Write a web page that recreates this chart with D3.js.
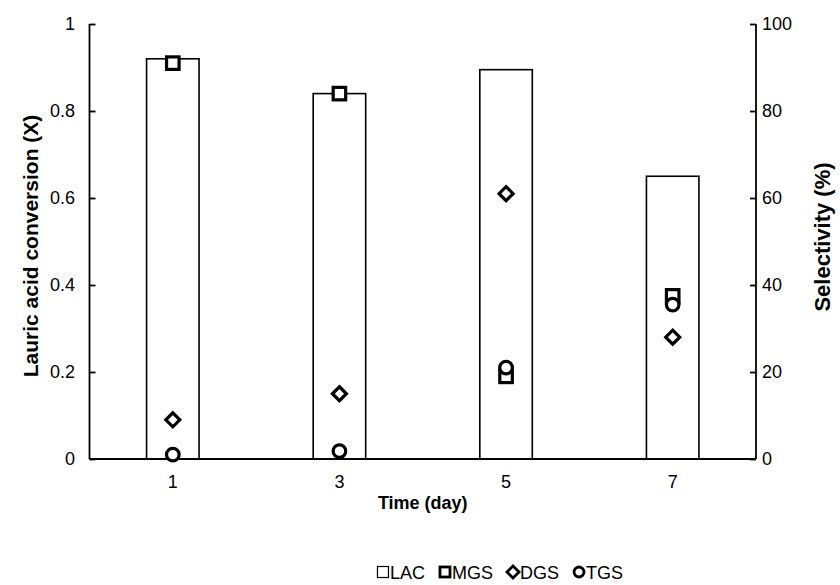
<!DOCTYPE html>
<html>
<head>
<meta charset="utf-8">
<script src="https://cdn.jsdelivr.net/npm/d3@7"></script>
<style>
  body { margin: 0; background: #fff; }
  svg { display: block; }
</style>
</head>
<body>
<svg id="chart" width="840" height="585"></svg>
<script>
// data
const days = ['1', '3', '5', '7'];
const lac = [0.92, 0.84, 0.895, 0.65];      // lauric acid conversion (bars, left axis)
const mgs = [91, 84, 19, 37.5];             // selectivity %, right axis
const dgs = [9, 15, 61, 28];
const tgs = [1, 1.8, 21, 35.5];
const leftTicks = [0, 0.2, 0.4, 0.6, 0.8, 1];
const rightTicks = [0, 20, 40, 60, 80, 100];
const legendItems = ['LAC', 'MGS', 'DGS', 'TGS'];

const svg = d3.select('#chart');

const LEFT = 89.5, RIGHT = 756, TOP = 24, BOTTOM = 459;
const FONT = '"Liberation Sans", Arial, sans-serif';

const x = d3.scaleBand().domain(days).range([LEFT, RIGHT])
    .paddingInner(0.685).paddingOuter(0.3425);
const yL = d3.scaleLinear().domain([0, 1]).range([BOTTOM, TOP]);
const yR = d3.scaleLinear().domain([0, 100]).range([BOTTOM, TOP]);

// bars
svg.append('g').selectAll('rect')
    .data(lac)
    .join('rect')
    .attr('x', (d, i) => x(days[i]))
    .attr('y', d => yL(d))
    .attr('width', x.bandwidth())
    .attr('height', d => BOTTOM - yL(d))
    .attr('fill', '#fff')
    .attr('stroke', '#000')
    .attr('stroke-width', 1.6);

// axes
const leftAxis = svg.append('g')
    .attr('transform', `translate(${LEFT},0)`)
    .call(d3.axisRight(yL).tickValues(leftTicks).tickSize(6).tickFormat(''));
const rightAxis = svg.append('g')
    .attr('transform', `translate(${RIGHT},0)`)
    .call(d3.axisLeft(yR).tickValues(rightTicks).tickSize(6).tickFormat(''));
const bottomAxis = svg.append('g')
    .attr('transform', `translate(0,${BOTTOM})`)
    .call(d3.axisBottom(x).tickSize(0).tickFormat(''));

[leftAxis, rightAxis, bottomAxis].forEach(g => {
    g.select('.domain').attr('stroke', '#000').attr('stroke-width', 1.8);
    g.selectAll('.tick line').attr('stroke', '#000').attr('stroke-width', 1.8);
});
leftAxis.select('.domain').attr('d', `M0,${TOP}V${BOTTOM}`);
rightAxis.select('.domain').attr('d', `M0,${TOP}V${BOTTOM}`);
bottomAxis.select('.domain').attr('d', `M${LEFT},0H${RIGHT}`);

// tick labels
svg.append('g').selectAll('text')
    .data(leftTicks)
    .join('text')
    .attr('x', 75)
    .attr('y', d => yL(d))
    .attr('dy', '0.36em')
    .attr('text-anchor', 'end')
    .attr('font-family', FONT)
    .attr('font-size', 18)
    .text(d => d);

svg.append('g').selectAll('text')
    .data(rightTicks)
    .join('text')
    .attr('x', 762)
    .attr('y', d => yR(d))
    .attr('dy', '0.36em')
    .attr('text-anchor', 'start')
    .attr('font-family', FONT)
    .attr('font-size', 18)
    .text(d => d);

svg.append('g').selectAll('text')
    .data(days)
    .join('text')
    .attr('x', d => x(d) + x.bandwidth() / 2)
    .attr('y', 488)
    .attr('text-anchor', 'middle')
    .attr('font-family', FONT)
    .attr('font-size', 18)
    .text(d => d);

// axis titles
svg.append('text')
    .attr('x', (LEFT + RIGHT) / 2)
    .attr('y', 509)
    .attr('text-anchor', 'middle')
    .attr('font-family', FONT)
    .attr('font-size', 18)
    .attr('font-weight', 'bold')
    .text('Time (day)');

svg.append('text')
    .attr('transform', `translate(37.5,246) rotate(-90)`)
    .attr('text-anchor', 'middle')
    .attr('font-family', FONT)
    .attr('font-size', 21)
    .attr('font-weight', 'bold')
    .text('Lauric acid conversion (X)');

svg.append('text')
    .attr('transform', `translate(829.5,237) rotate(-90)`)
    .attr('text-anchor', 'middle')
    .attr('font-family', FONT)
    .attr('font-size', 22)
    .attr('font-weight', 'bold')
    .text('Selectivity (%)');

// markers
const cx = i => x(days[i]) + x.bandwidth() / 2;
const MARK_W = 3.2;

function square(g, size, sw) {
    return g.append('rect')
        .attr('x', -size / 2).attr('y', -size / 2)
        .attr('width', size).attr('height', size)
        .attr('fill', '#fff').attr('stroke', '#000').attr('stroke-width', sw);
}
function diamond(g, r, sw) {
    return g.append('path')
        .attr('d', `M0,${-r}L${r},0L0,${r}L${-r},0Z`)
        .attr('fill', '#fff').attr('stroke', '#000').attr('stroke-width', sw);
}
function circle(g, r, sw) {
    return g.append('circle')
        .attr('r', r)
        .attr('fill', '#fff').attr('stroke', '#000').attr('stroke-width', sw);
}

const series = [
    { values: mgs, draw: g => square(g, 12.5, MARK_W) },
    { values: dgs, draw: g => diamond(g, 7, MARK_W) },
    { values: tgs, draw: g => circle(g, 6.3, MARK_W) }
];
series.forEach(s => {
    s.values.forEach((v, i) => {
        const g = svg.append('g').attr('transform', `translate(${cx(i)},${yR(v)})`);
        s.draw(g);
    });
});

// legend
const legend = svg.append('g').attr('font-family', FONT).attr('font-size', 18);
let lx = 0;
const LEG_Y = 573, LEG_GAP = 14, LEG_CX = 500;
legendItems.forEach((name, i) => {
    const g = legend.append('g').attr('transform', `translate(${lx},0)`);
    const sym = g.append('g').attr('transform', `translate(6,${LEG_Y - 1})`);
    if (i === 0) square(sym, 11, 1.2);
    if (i === 1) square(sym, 10, 2.8);
    if (i === 2) diamond(sym, 6, 2.8);
    if (i === 3) circle(sym, 5, 2.8);
    const t = g.append('text').attr('x', 13).attr('y', LEG_Y).attr('dy', '0.36em').text(name);
    lx += 13 + t.node().getComputedTextLength() + LEG_GAP;
});
const legW = lx - LEG_GAP;
legend.attr('transform', `translate(${LEG_CX - legW / 2},0)`);
</script>
</body>
</html>
